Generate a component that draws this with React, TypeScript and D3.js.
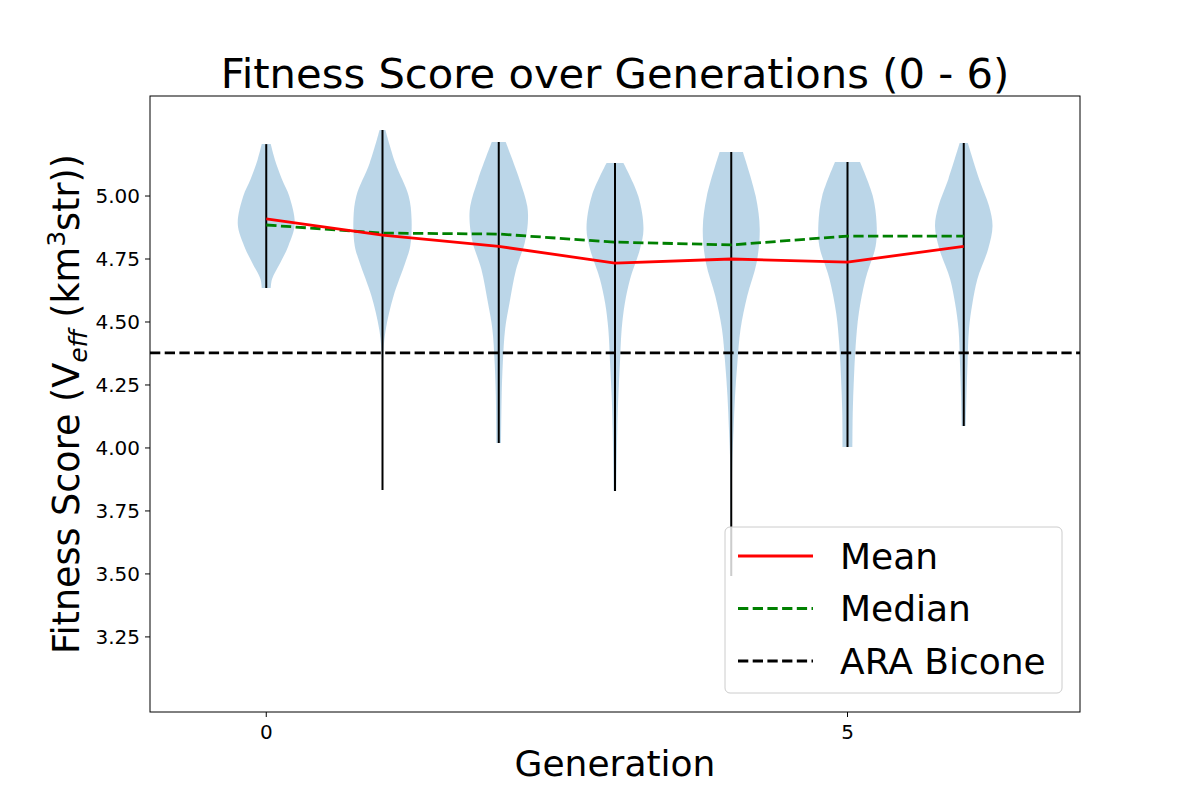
import { area, curveCatmullRom, line, scaleLinear } from "d3";

const generations = [0, 1, 2, 3, 4, 5, 6];
const meanScores = [4.909, 4.845, 4.8, 4.734, 4.75, 4.738, 4.8];
const medianScores = [4.885, 4.853, 4.849, 4.817, 4.806, 4.841, 4.841];
const minScores = [4.635, 3.833, 4.02, 3.829, 3.492, 4.004, 4.087];
const maxScores = [5.206, 5.262, 5.214, 5.131, 5.175, 5.135, 5.21];
const araBicone = 4.377;

// violin profiles: [score, relative density]
const densities: [number, number][][] = [
  [[5.206, 0.155], [5.143, 0.3], [5.067, 0.54], [5.0, 0.79], [4.889, 0.98], [4.802, 0.76], [4.734, 0.48], [4.671, 0.2], [4.635, 0.155]],
  [[5.262, 0.1], [5.131, 0.44], [5.0, 0.9], [4.909, 1.0], [4.802, 0.955], [4.734, 0.78], [4.603, 0.38], [4.472, 0.115], [4.377, 0.03], [4.111, 0.015], [3.833, 0.012]],
  [[5.214, 0.24], [5.067, 0.71], [4.96, 0.98], [4.893, 1.0], [4.813, 0.89], [4.71, 0.6], [4.575, 0.37], [4.472, 0.22], [4.337, 0.14], [4.206, 0.1], [4.02, 0.08]],
  [[5.131, 0.29], [5.0, 0.8], [4.869, 0.98], [4.79, 0.86], [4.671, 0.52], [4.575, 0.34], [4.472, 0.23], [4.337, 0.17], [4.206, 0.115], [4.075, 0.08], [3.829, 0.045]],
  [[5.175, 0.4], [5.0, 0.84], [4.869, 0.98], [4.734, 0.87], [4.603, 0.55], [4.472, 0.32], [4.337, 0.21], [4.206, 0.13], [4.075, 0.08], [3.94, 0.035], [3.714, 0.02], [3.492, 0.015]],
  [[5.135, 0.43], [5.0, 0.87], [4.893, 1.0], [4.802, 0.97], [4.671, 0.62], [4.536, 0.39], [4.405, 0.28], [4.274, 0.22], [4.139, 0.18], [4.004, 0.17]],
  [[5.21, 0.14], [5.067, 0.53], [4.96, 0.87], [4.881, 0.99], [4.79, 0.84], [4.671, 0.47], [4.575, 0.3], [4.472, 0.18], [4.337, 0.13], [4.206, 0.093], [4.087, 0.07]],
];

const yTicks = [3.25, 3.5, 3.75, 4.0, 4.25, 4.5, 4.75, 5.0];
const xTicks = [0, 5];
const legendItems = [
  { label: "Mean", color: "red", dash: "" },
  { label: "Median", color: "green", dash: "10.3,4.4" },
  { label: "ARA Bicone", color: "black", dash: "10.3,4.4" },
];

const width = 1200;
const height = 800;
const marginLeft = 150;
const marginRight = 120;
const marginTop = 96;
const marginBottom = 88;
const font = "DejaVu Sans, sans-serif";
const lw = 2.78;

export default function App() {
  const x = scaleLinear([-1, 7], [marginLeft, width - marginRight]);
  const y = scaleLinear([2.952, 5.397], [height - marginBottom, marginTop]);
  const halfWidth = 0.25;

  const violin = (g: number) =>
    area<[number, number]>()
      .y((d) => y(d[0]))
      .x0((d) => x(g - d[1] * halfWidth))
      .x1((d) => x(g + d[1] * halfWidth))
      .curve(curveCatmullRom);

  const seriesLine = line<number>((_, i) => x(generations[i]), (d) => y(d));

  const legX = 725;
  const legY = 527;

  return (
    <svg
      width={width}
      height={height}
      style={{ position: "absolute", left: 0, top: 0, background: "white" }}
      fontFamily={font}
    >
      <rect width={width} height={height} fill="white" />
      <text x={615} y={88} textAnchor="middle" fontSize={41.7}>
        Fitness Score over Generations (0 - 6)
      </text>

      {generations.map((g, i) => (
        <path key={`v${g}`} d={violin(g)(densities[i]) ?? ""} fill="#1f77b4" fillOpacity={0.3} />
      ))}
      {generations.map((g, i) => (
        <line
          key={`e${g}`}
          x1={x(g)}
          x2={x(g)}
          y1={y(minScores[i])}
          y2={y(maxScores[i])}
          stroke="black"
          strokeWidth={2}
        />
      ))}

      <line
        x1={marginLeft}
        x2={width - marginRight}
        y1={y(araBicone)}
        y2={y(araBicone)}
        stroke="black"
        strokeWidth={lw}
        strokeDasharray="10.3,4.4"
      />
      <path d={seriesLine(medianScores) ?? ""} fill="none" stroke="green" strokeWidth={lw} strokeDasharray="10.3,4.4" />
      <path d={seriesLine(meanScores) ?? ""} fill="none" stroke="red" strokeWidth={lw} />

      <rect
        x={marginLeft}
        y={marginTop}
        width={width - marginLeft - marginRight}
        height={height - marginTop - marginBottom}
        fill="none"
        stroke="black"
        strokeWidth={1}
      />

      {yTicks.map((t) => (
        <g key={`y${t}`}>
          <line x1={marginLeft - 5} x2={marginLeft} y1={y(t)} y2={y(t)} stroke="black" />
          <text x={marginLeft - 10} y={y(t)} dy="0.36em" textAnchor="end" fontSize={20}>
            {t.toFixed(2)}
          </text>
        </g>
      ))}
      {xTicks.map((t) => (
        <g key={`x${t}`}>
          <line x1={x(t)} x2={x(t)} y1={height - marginBottom} y2={height - marginBottom + 5} stroke="black" />
          <text x={x(t)} y={height - marginBottom + 27} textAnchor="middle" fontSize={20}>
            {t}
          </text>
        </g>
      ))}

      <text x={615} y={776} textAnchor="middle" fontSize={36}>
        Generation
      </text>
      <text transform={`translate(79,${(marginTop + height - marginBottom) / 2}) rotate(-90)`} textAnchor="middle" fontSize={36.5}>
        Fitness Score (V
        <tspan fontSize={25} fontStyle="italic" dy={8}>eff</tspan>
        <tspan dy={-8}> (km</tspan>
        <tspan fontSize={25} dy={-14}>3</tspan>
        <tspan dy={14}>str))</tspan>
      </text>

      <rect x={legX} y={legY} width={337} height={166} rx={5} fill="white" fillOpacity={0.8} stroke="#cccccc" strokeWidth={1} />
      {legendItems.map((d, i) => (
        <g key={d.label} transform={`translate(${legX},${legY + 29 + i * 52.5})`}>
          <line x1={13} x2={88} y1={0} y2={0} stroke={d.color} strokeWidth={lw} strokeDasharray={d.dash || undefined} />
          <text x={115} y={0} dy="0.36em" fontSize={36}>
            {d.label}
          </text>
        </g>
      ))}
    </svg>
  );
}
